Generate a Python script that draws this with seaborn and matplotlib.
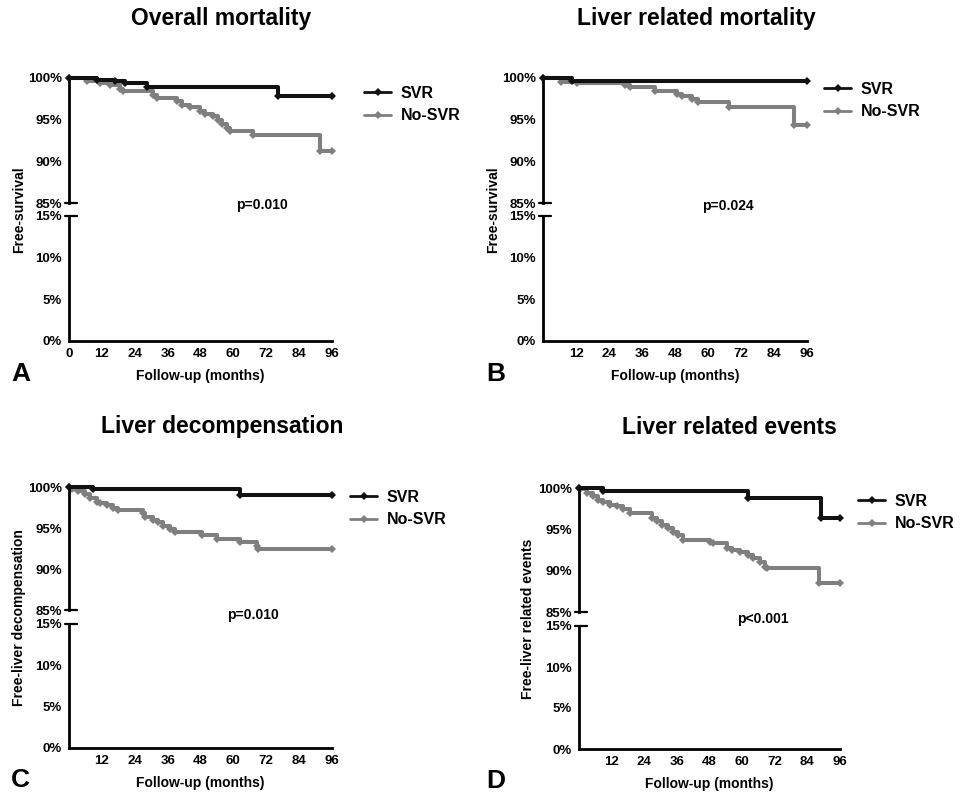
import matplotlib
matplotlib.use("Agg")
import matplotlib.pyplot as plt
import seaborn as sns

sns.set_style("white")
plt.rcParams["font.family"] = ["Liberation Sans", "DejaVu Sans"]
plt.rcParams["font.weight"] = "bold"
plt.rcParams["text.color"] = "black"
plt.rcParams["axes.labelcolor"] = "black"
plt.rcParams["xtick.color"] = "black"
plt.rcParams["ytick.color"] = "black"

W, H = 965, 796
BLACK = "#111111"
GRAY = "#7f7f7f"

month_ticks = [0, 12, 24, 36, 48, 60, 72, 84, 96]

# Panel A - overall mortality
a_svr_t = [0, 10.1, 16.8, 20.4, 28.3, 76.2, 96]
a_svr_s = [100, 99.8, 99.6, 99.4, 98.9, 97.8, 97.8]
a_no_t = [0, 6.4, 11.3, 15.0, 18.6, 19.8, 30.8, 32.0, 39.3, 41.1, 44.2, 47.8,
          49.6, 52.7, 54.5, 55.7, 57.5, 58.8, 67.3, 91.6, 96]
a_no_s = [100, 99.6, 99.4, 99.2, 98.7, 98.4, 98.0, 97.6, 97.2, 96.8, 96.5, 96.0,
          95.7, 95.4, 95.0, 94.5, 94.0, 93.7, 93.2, 91.2, 91.2]

# Panel B - liver related mortality
b_svr_t = [0, 10.5, 96]
b_svr_s = [100, 99.7, 99.7]
b_no_t = [0, 6.7, 12.2, 29.8, 31.6, 40.7, 48.6, 50.4, 54.1, 56.5, 67.5, 91.1, 96]
b_no_s = [100, 99.5, 99.4, 99.2, 98.9, 98.5, 98.1, 97.8, 97.5, 97.1, 96.5, 94.4, 94.4]

# Panel C - liver decompensation
c_svr_t = [0, 8.9, 62.4, 96]
c_svr_s = [100, 99.7, 99.0, 99.0]
c_no_t = [0, 1.0, 3.4, 5.8, 7.7, 10.1, 11.3, 13.7, 16.2, 18.0, 27.1, 27.7, 30.8,
          32.6, 34.4, 36.9, 38.7, 48.4, 53.9, 62.4, 68.5, 69.1, 96]
c_no_s = [100, 99.8, 99.5, 99.2, 98.7, 98.2, 98.0, 97.8, 97.4, 97.2, 96.8, 96.35, 95.95,
          95.7, 95.3, 94.9, 94.5, 94.1, 93.7, 93.3, 92.8, 92.5, 92.5]

# Panel D - liver related events
d_svr_t = [0, 8.9, 62.2, 88.9, 96]
d_svr_s = [100, 99.6, 98.8, 96.4, 96.4]
d_no_t = [0, 0.4, 2.8, 5.3, 7.1, 8.9, 11.4, 13.9, 16.3, 18.8, 26.7, 28.6, 30.4, 32.8,
          34.7, 36.5, 38.4, 48.2, 49.4, 54.3, 56.1, 59.2, 62.2, 64.1, 66.5, 68.4, 69.0,
          88.4, 96]
d_no_s = [100, 99.9, 99.4, 99.0, 98.5, 98.25, 98.0, 97.8, 97.45, 97.0, 96.4, 95.95, 95.55,
          95.15, 94.7, 94.3, 93.7, 93.5, 93.3, 92.8, 92.5, 92.2, 91.9, 91.5, 91.1, 90.5,
          90.3, 88.5, 88.5]


def px_axes(fig, x0, y_top, x1, y_bot):
    return fig.add_axes([x0 / W, 1 - y_bot / H, (x1 - x0) / W, (y_bot - y_top) / H])


def style_axis(ax):
    ax.tick_params(axis="both", direction="out", length=4, width=1.6,
                   labelsize=9.5, pad=1, colors="black")
    for lab in ax.get_xticklabels() + ax.get_yticklabels():
        lab.set_fontweight("bold")


def draw_panel(fig, geo, title, ylabel, pval, letter, svr, nosvr, show_zero):
    x0, x1, t_top, t_bot, b_top, b_bot = geo["x0"], geo["x1"], geo["t_top"], geo["t_bot"], geo["b_top"], geo["b_bot"]
    top = px_axes(fig, x0, t_top, x1, t_bot)
    bot = px_axes(fig, x0, b_top, x1, b_bot)

    for t, s, col, lab in [(svr[0], svr[1], BLACK, "SVR"), (nosvr[0], nosvr[1], GRAY, "No-SVR")]:
        sns.lineplot(x=t, y=s, ax=top, color=col, lw=2.9, drawstyle="steps-post",
                     marker="D", markersize=3.8, markeredgewidth=0, label=lab,
                     clip_on=False, zorder=3 if col == BLACK else 2)

    top.set_xlim(0, 96)
    top.set_ylim(85, 100)
    top.set_yticks([85, 90, 95, 100])
    top.set_yticklabels(["85%", "90%", "95%", "100%"])
    top.set_xticks([])
    top.set_xlabel("")
    top.set_ylabel("")
    for side in ["top", "right", "bottom"]:
        top.spines[side].set_visible(False)
    top.spines["left"].set_linewidth(2)
    top.spines["left"].set_color("black")
    top.plot([-0.015, 0.03], [0, 0], transform=top.transAxes, color="black", lw=1.6, clip_on=False)
    style_axis(top)

    bot.set_xlim(0, 96)
    bot.set_ylim(0, 15)
    bot.set_yticks([0, 5, 10, 15])
    bot.set_yticklabels(["0%", "5%", "10%", "15%"])
    bot.set_xticks(month_ticks)
    bot.set_xticklabels([("0" if show_zero else "") if m == 0 else str(m) for m in month_ticks])
    for side in ["top", "right"]:
        bot.spines[side].set_visible(False)
    for side in ["left", "bottom"]:
        bot.spines[side].set_linewidth(2)
        bot.spines[side].set_color("black")
    bot.plot([-0.015, 0.03], [1, 1], transform=bot.transAxes, color="black", lw=1.6, clip_on=False)
    style_axis(bot)
    if not show_zero:
        bot.xaxis.get_major_ticks()[0].tick1line.set_visible(False)

    leg = top.legend(loc="upper left", bbox_to_anchor=(geo["leg"][0] / W, 1 - geo["leg"][1] / H),
                     bbox_transform=fig.transFigure, frameon=False, fontsize=11.5,
                     handlelength=1.7, handletextpad=0.6, labelspacing=0.45, borderpad=0,
                     borderaxespad=0)
    for txt in leg.get_texts():
        txt.set_fontweight("bold")
    for line in leg.get_lines():
        line.set_linewidth(2)

    fig.text(geo["title"][0] / W, 1 - geo["title"][1] / H, title, ha="center", va="center",
             fontsize=16.5, fontweight="bold")
    fig.text(geo["ylab"][0] / W, 1 - (t_top + b_bot) / 2 / H, ylabel, rotation=90,
             ha="center", va="center", fontsize=10, fontweight="bold")
    fig.text(geo["pval"][0] / W, 1 - geo["pval"][1] / H, pval, ha="center", va="center",
             fontsize=10, fontweight="bold")
    fig.text((x0 + x1) / 2 / W, 1 - geo["xlab_y"] / H, "Follow-up (months)", ha="center",
             va="center", fontsize=10, fontweight="bold")
    fig.text(geo["letter"][0] / W, 1 - geo["letter"][1] / H, letter, ha="left", va="center",
             fontsize=19, fontweight="bold")


fig = plt.figure(figsize=(W / 100, H / 100), dpi=100)

geo_a = dict(x0=69, x1=332, t_top=78, t_bot=203, b_top=216, b_bot=341, leg=(364, 86),
             title=(221, 19), ylab=(19,), pval=(262, 205), xlab_y=376, letter=(11, 374))
geo_b = dict(x0=543, x1=807, t_top=78, t_bot=203, b_top=216, b_bot=341, leg=(824, 82),
             title=(696, 19), ylab=(493,), pval=(728, 206), xlab_y=376, letter=(486, 374))
geo_c = dict(x0=69, x1=332, t_top=487, t_bot=610, b_top=624, b_bot=748, leg=(350, 490),
             title=(222, 426), ylab=(19,), pval=(253, 615), xlab_y=783, letter=(11, 780))
geo_d = dict(x0=579, x1=840, t_top=488, t_bot=612, b_top=626, b_bot=749, leg=(858, 494),
             title=(729, 428), ylab=(528,), pval=(763, 619), xlab_y=784, letter=(486, 781))

draw_panel(fig, geo_a, "Overall mortality", "Free-survival", "p=0.010", "A",
           (a_svr_t, a_svr_s), (a_no_t, a_no_s), True)
draw_panel(fig, geo_b, "Liver related mortality", "Free-survival", "p=0.024", "B",
           (b_svr_t, b_svr_s), (b_no_t, b_no_s), False)
draw_panel(fig, geo_c, "Liver decompensation", "Free-liver decompensation", "p=0.010", "C",
           (c_svr_t, c_svr_s), (c_no_t, c_no_s), False)
draw_panel(fig, geo_d, "Liver related events", "Free-liver related events", "p<0.001", "D",
           (d_svr_t, d_svr_s), (d_no_t, d_no_s), False)

fig.savefig("out.png", dpi=100)
